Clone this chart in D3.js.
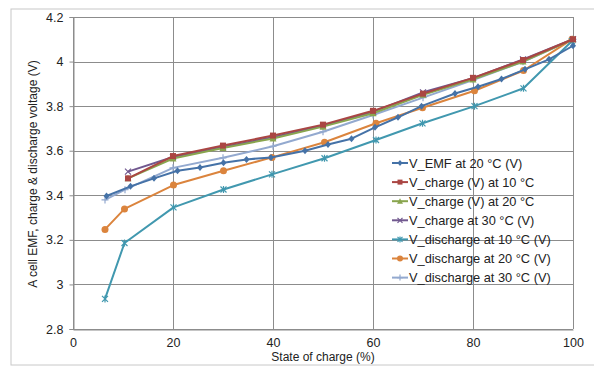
<!DOCTYPE html>
<html><head><meta charset="utf-8">
<script src="https://cdn.jsdelivr.net/npm/d3@7"></script>
<style>body{margin:0;background:#fff;} svg{display:block;font-family:"Liberation Sans",Arial,sans-serif;}</style>
</head><body>
<svg id="c" width="594" height="367"></svg>
<script>
const xTicks = [0, 20, 40, 60, 80, 100];
const yTicks = [2.8, 3.0, 3.2, 3.4, 3.6, 3.8, 4.0, 4.2];
const seriesNames = ["V_EMF at 20 °C (V)", "V_charge (V) at 10 °C", "V_charge (V) at 20 °C", "V_charge at 30 °C (V)", "V_discharge at 10 °C (V)", "V_discharge at 20 °C (V)", "V_discharge at 30 °C (V)"];
const seriesColors = ["#4572A7", "#AA4643", "#89A54E", "#71588F", "#4198AF", "#DB843D", "#93A9CF"];
const seriesMarkers = ["diamond", "square", "triangle", "x", "star", "circle", "plus"];

const emfX = [6.7, 11.5, 16.2, 20.9, 25.4, 30.1, 34.7, 39.6, 46.4, 51.0, 55.7, 60.4, 65.0, 69.7, 76.4, 81.0, 85.7, 90.4, 95.2, 100];
const emfY = [3.397, 3.44, 3.476, 3.51, 3.525, 3.546, 3.561, 3.57, 3.60, 3.628, 3.654, 3.705, 3.75, 3.80, 3.857, 3.887, 3.922, 3.965, 4.01, 4.071];
const chgX = [11, 20, 30, 40, 50, 60, 70, 80, 90, 100];
const chg10Y = [3.476, 3.576, 3.623, 3.668, 3.717, 3.779, 3.856, 3.927, 4.007, 4.10];
const chg20Y = [3.476, 3.565, 3.612, 3.655, 3.708, 3.768, 3.851, 3.92, 4.0, 4.10];
const chg30Y = [3.506, 3.572, 3.617, 3.661, 3.713, 3.774, 3.862, 3.925, 4.01, 4.10];
const disX = [6.4, 10.3, 20.1, 30.1, 39.8, 50.3, 60.6, 69.9, 80.3, 90.1, 99.8];
const dis10Y = [2.935, 3.186, 3.346, 3.426, 3.494, 3.566, 3.648, 3.723, 3.80, 3.88, 4.092];
const dis20Y = [3.247, 3.339, 3.446, 3.51, 3.57, 3.638, 3.723, 3.793, 3.869, 3.96, 4.10];
const dis30X = [6.4, 10.4, 20, 30, 40, 50, 60, 70, 80, 90, 100];
const dis30Y = [3.379, 3.425, 3.523, 3.568, 3.62, 3.685, 3.76, 3.838, 3.917, 3.999, 4.10];

const seriesX = [emfX, chgX, chgX, chgX, disX, disX, dis30X];
const seriesY = [emfY, chg10Y, chg20Y, chg30Y, dis10Y, dis20Y, dis30Y];

const svg = d3.select("#c");
const L = 73, R = 573, T = 17, B = 329;
const x = d3.scaleLinear().domain([0, 100]).range([L, R]);
const y = d3.scaleLinear().domain([2.8, 4.2]).range([B, T]);

svg.append("rect").attr("x", 11).attr("y", 9).attr("width", 600).attr("height", 356)
  .attr("fill", "#fff").attr("stroke", "#c8c8c8").attr("stroke-width", 1);

// gridlines
const g = svg.append("g");
g.selectAll(".hg").data(yTicks).join("line")
  .attr("x1", L).attr("x2", R).attr("y1", d => Math.round(y(d)) + 0.5).attr("y2", d => Math.round(y(d)) + 0.5)
  .attr("stroke", "#8c8c8c").attr("stroke-width", 1);
g.selectAll(".vg").data(xTicks).join("line")
  .attr("y1", T).attr("y2", B).attr("x1", d => Math.round(x(d)) + 0.5).attr("x2", d => Math.round(x(d)) + 0.5)
  .attr("stroke", "#8c8c8c").attr("stroke-width", 1);

// axes
const yAxis = svg.append("g").attr("transform", `translate(${L + 0.5},0)`)
  .call(d3.axisLeft(y).tickValues(yTicks).tickSize(4).tickPadding(6).tickFormat(d3.format("~g")));
const xAxis = svg.append("g").attr("transform", `translate(0,${B + 0.5})`)
  .call(d3.axisBottom(x).tickValues(xTicks).tickSize(0).tickPadding(9));
[yAxis, xAxis].forEach(a => {
  a.select(".domain").attr("stroke", "#8c8c8c");
  a.selectAll(".tick line").attr("stroke", "#8c8c8c");
  a.selectAll("text").attr("font-size", 12.5).attr("fill", "#222").attr("font-family", '"Liberation Sans",Arial,sans-serif');
});

svg.append("text").attr("x", 323).attr("y", 361).attr("text-anchor", "middle")
  .attr("font-size", 12).attr("fill", "#222").text("State of charge (%)");
svg.append("text").attr("transform", "translate(37,174) rotate(-90)").attr("text-anchor", "middle")
  .attr("font-size", 12).attr("fill", "#222").text("A cell EMF, charge & discharge voltage (V)");

function marker(sel, type, color, s) {
  const h = s / 2;
  if (type === "diamond") sel.append("path").attr("d", `M0,${-h-0.5}L${h},0L0,${h+0.5}L${-h},0Z`).attr("fill", color);
  else if (type === "square") sel.append("rect").attr("x", -h).attr("y", -h).attr("width", s).attr("height", s).attr("fill", color);
  else if (type === "triangle") sel.append("path").attr("d", `M0,${-h-0.5}L${h+0.5},${h}L${-h-0.5},${h}Z`).attr("fill", color);
  else if (type === "circle") sel.append("circle").attr("r", h + 0.5).attr("fill", color);
  else if (type === "x") sel.append("path").attr("d", `M${-h},${-h}L${h},${h}M${-h},${h}L${h},${-h}`).attr("stroke", color).attr("stroke-width", 1.2);
  else if (type === "star") sel.append("path").attr("d", `M${-h},${-h}L${h},${h}M${-h},${h}L${h},${-h}M0,${-h-0.5}L0,${h+0.5}`).attr("stroke", color).attr("stroke-width", 1.2);
  else if (type === "plus") sel.append("path").attr("d", `M${-h-0.5},0L${h+0.5},0M0,${-h-0.5}L0,${h+0.5}`).attr("stroke", color).attr("stroke-width", 1.2);
}

const line = d3.line().x(d => x(d[0])).y(d => y(d[1]));
const order = [6, 5, 4, 3, 2, 1, 0];
order.forEach(i => {
  const pts = seriesX[i].map((v, k) => [v, seriesY[i][k]]);
  const sg = svg.append("g");
  sg.append("path").datum(pts).attr("d", line).attr("fill", "none")
    .attr("stroke", seriesColors[i]).attr("stroke-width", 2).attr("stroke-linejoin", "round");
  pts.forEach(p => {
    const m = sg.append("g").attr("transform", `translate(${x(p[0])},${y(p[1])})`);
    marker(m, seriesMarkers[i], seriesColors[i], 6);
  });
});

// legend
const lg = svg.append("g");
seriesNames.forEach((n, i) => {
  const yy = 163 + i * 19.1;
  lg.append("line").attr("x1", 392).attr("x2", 408).attr("y1", yy).attr("y2", yy)
    .attr("stroke", seriesColors[i]).attr("stroke-width", 2);
  const m = lg.append("g").attr("transform", `translate(400,${yy})`);
  marker(m, seriesMarkers[i], seriesColors[i], 5);
  lg.append("text").attr("x", 409).attr("y", yy + 4.5).attr("font-size", 12.8).attr("fill", "#222").text(n);
});
</script>
</body></html>
